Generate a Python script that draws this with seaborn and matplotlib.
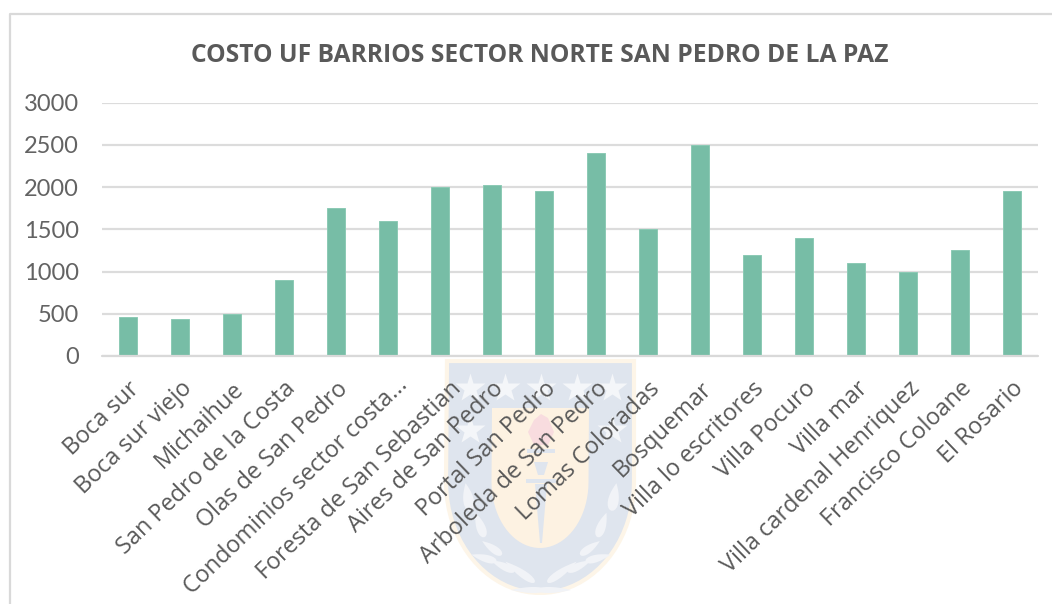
import matplotlib
matplotlib.use("Agg")
import matplotlib.pyplot as plt
import seaborn as sns
import pandas as pd
import numpy as np
from matplotlib.patches import Polygon
from matplotlib.transforms import ScaledTranslation

barrios = ["Boca sur", "Boca sur viejo", "Michaihue", "San Pedro de la Costa",
           "Olas de San Pedro", "Condominios sector costa...", "Foresta de San Sebastian",
           "Aires de San Pedro", "Portal San Pedro", "Arboleda de San Pedro",
           "Lomas Coloradas", "Bosquemar", "Villa lo escritores", "Villa Pocuro",
           "Villa mar", "Villa cardenal Henriquez", "Francisco Coloane", "El Rosario"]
costo_uf = [460, 440, 500, 900, 1750, 1600, 2000, 2020, 1950, 2400,
            1500, 2500, 1190, 1400, 1100, 1000, 1250, 1950]
y_ticks = [0, 500, 1000, 1500, 2000, 2500, 3000]
titulo = "COSTO UF BARRIOS SECTOR NORTE SAN PEDRO DE LA PAZ"

W, H = 1052, 604
sns.set_theme(style="white")
plt.rcParams['font.family'] = ['Open Sans', 'DejaVu Sans']
fig = plt.figure(figsize=(W/100, H/100), dpi=100, facecolor="white")

def fx(x): return np.asarray(x, dtype=float) / W
def fy(y): return 1 - np.asarray(y, dtype=float) / H
def poly(xs, ys, **kw):
    fig.add_artist(Polygon(np.c_[fx(xs), fy(ys)], closed=True,
                           transform=fig.transFigure, zorder=0, **kw))
def leaf(cx, cy, length, width, angle, color="#f1f3f7"):
    u = np.linspace(0, 2*np.pi, 24)
    a = np.deg2rad(angle)
    px = length/2*np.cos(u)
    py = width/2*np.sin(u)*np.abs(np.cos(u/2))
    poly(cx + px*np.cos(a) - py*np.sin(a), cy + px*np.sin(a) + py*np.cos(a), fc=color, ec="none")

# chart frame: left and top edges only
fig.add_artist(plt.Line2D([fx(10), fx(10), fx(1052)],
                          [fy(604), fy(14), fy(14)], color="#d9d9d9", lw=1.6))

# faint watermark shield
t = np.linspace(0, np.pi, 40)
poly(np.r_[447, 634, 540 + 94*np.cos(t)], np.r_[361, 361, 482 + 111*np.sin(t)],
     fc="#dfe5ee", ec="#fdf5e8", lw=3)
poly(np.r_[492, 589, 540 + 48.5*np.cos(t)], np.r_[408, 408, 482 + 66*np.sin(t)],
     fc="#fdf2e2", ec="none")
poly([528, 534, 541, 548, 554, 548, 534], [432, 420, 414, 418, 432, 445, 445], fc="#f8dcdf", ec="none")
poly([534, 548, 544, 538], [462, 462, 475, 475], fc="#dfe5ee", ec="none")
poly([527, 555, 555, 527], [449, 449, 453, 453], fc="#dfe5ee", ec="none")
poly([526, 556, 556, 526], [479, 479, 483, 483], fc="#dfe5ee", ec="none")
poly([535, 547, 542, 540], [484, 484, 543, 543], fc="#dfe5ee", ec="none")
for sx0, sy0 in [(470, 388), (505, 388), (541, 388), (577, 388), (612, 388), (470, 430), (612, 430)]:
    fig.add_artist(plt.Line2D([fx(sx0)], [fy(sy0)], marker="*", ms=22, color="#f4f6f9", mec="none", zorder=0))
for lx, ly, ln, wd, ang in [(468, 497, 28, 14, 80), (480, 525, 26, 12, 70), (492, 548, 24, 10, 35),
                            (503, 566, 26, 10, 25), (484, 558, 26, 10, 15), (520, 572, 36, 10, 35),
                            (528, 590, 34, 8, 0)]:
    leaf(lx, ly, ln, wd, ang)
    leaf(2*541 - lx, ly, ln, wd, 180 - ang)

ax = fig.add_axes([fx(102), fy(356), fx(1038 - 102), (356 - 102.5) / H])
ax.patch.set_alpha(0)
df = pd.DataFrame({"barrio": barrios, "costo": costo_uf})
sns.barplot(data=df, x="barrio", y="costo", color="#77bda6", saturation=1, width=0.35,
            edgecolor="#8ccab5", linewidth=0.7, ax=ax)
ax.set_xlim(-0.5, len(barrios) - 0.5)
ax.set_ylim(0, 3000)
ax.set_yticks(y_ticks)
ax.set_xlabel("")
ax.set_ylabel("")
ax.grid(axis="y", color="#dcdcdc", lw=1.6)
ax.set_axisbelow(True)
sns.despine(ax=ax, left=True, top=True, right=True, bottom=True)
ax.axhline(0, color="#d9d9d9", lw=1.6, zorder=1, clip_on=False)
ax.tick_params(axis="both", length=0)
ax.tick_params(axis="y", labelsize=17, labelcolor="#636363", pad=16.5)
for lab in ax.get_yticklabels():
    lab.set_family(["Lato", "DejaVu Sans"])
ax.set_xticks(range(len(barrios)))
ax.set_xticklabels(barrios, rotation=44, ha="right", rotation_mode="anchor",
                   fontsize=16.9, color="#595959")
ax.tick_params(axis="x", pad=15)
# the two longest labels sit further right in the reference
for i, (dx, dy) in {5: (8, 4), 6: (10, 0)}.items():
    lab = ax.get_xticklabels()[i]
    lab.set_transform(lab.get_transform() + ScaledTranslation(dx/100, dy/100, fig.dpi_scale_trans))

fig.text(fx(539.5), fy(55), titulo, ha="center", va="center", fontsize=17.75,
         fontweight="bold", color="#595959")

fig.savefig("out.png", dpi=100, facecolor="white")
